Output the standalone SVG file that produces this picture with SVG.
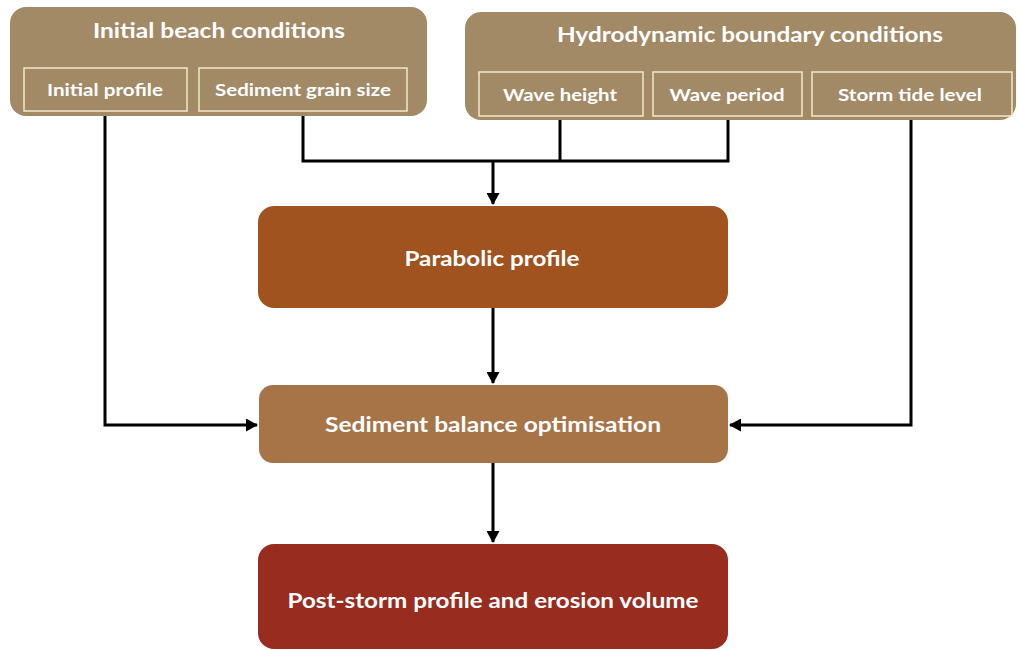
<svg xmlns="http://www.w3.org/2000/svg" width="1018" height="650" viewBox="0 0 1018 650">
  <style>
    .outer { fill: #A38A66; }
    .sub { fill: none; stroke: #F2E9CC; stroke-width: 1.5; }
    .t { font-family: Lato, "Liberation Sans", sans-serif; font-weight: bold; fill: #FFFFFF; text-anchor: middle; }
    .title { font-size: 20px; }
    .lbl { font-size: 17px; }
    .main { font-size: 21px; }
    .conn { fill: none; stroke: #000000; stroke-width: 3; }
  </style>
  <defs>
    <marker id="arr" markerWidth="13" markerHeight="13" refX="11" refY="6.5" orient="auto" markerUnits="userSpaceOnUse">
      <path d="M0,0 L12,6.5 L0,13 Z" fill="#000000"/>
    </marker>
  </defs>
  <rect width="1018" height="650" fill="#FFFFFF"/>

  <g id="connectors">
    <path class="conn" d="M105,112 V425 H257" marker-end="url(#arr)"/>
    <path class="conn" d="M303,112 V161 H728 V118"/>
    <path class="conn" d="M560,116 V161"/>
    <path class="conn" d="M493,161 V204" marker-end="url(#arr)"/>
    <path class="conn" d="M493,308 V383" marker-end="url(#arr)"/>
    <path class="conn" d="M911,118 V425 H730" marker-end="url(#arr)"/>
    <path class="conn" d="M493,463 V542" marker-end="url(#arr)"/>
  </g>

  <g id="initial-beach-conditions">
    <rect class="outer" x="10" y="7" width="417" height="109" rx="16"/>
    <text class="t title" x="219" y="38" textLength="252" lengthAdjust="spacingAndGlyphs">Initial beach conditions</text>
  </g>
  <g id="initial-profile">
    <rect class="sub" x="24" y="68" width="163" height="43"/>
    <text class="t lbl" x="105" y="96" textLength="116" lengthAdjust="spacingAndGlyphs">Initial profile</text>
  </g>
  <g id="sediment-grain-size">
    <rect class="sub" x="199" y="68" width="208" height="43"/>
    <text class="t lbl" x="303" y="96" textLength="176" lengthAdjust="spacingAndGlyphs">Sediment grain size</text>
  </g>

  <g id="hydrodynamic-boundary-conditions">
    <rect class="outer" x="465" y="12" width="551" height="108" rx="16"/>
    <text class="t title" x="750" y="42" textLength="386" lengthAdjust="spacingAndGlyphs">Hydrodynamic boundary conditions</text>
  </g>
  <g id="wave-height">
    <rect class="sub" x="479" y="72" width="164" height="44"/>
    <text class="t lbl" x="560" y="101" textLength="114" lengthAdjust="spacingAndGlyphs">Wave height</text>
  </g>
  <g id="wave-period">
    <rect class="sub" x="653" y="72" width="149" height="44"/>
    <text class="t lbl" x="727" y="101" textLength="115" lengthAdjust="spacingAndGlyphs">Wave period</text>
  </g>
  <g id="storm-tide-level">
    <rect class="sub" x="812" y="72" width="200" height="44"/>
    <text class="t lbl" x="910" y="101" textLength="144" lengthAdjust="spacingAndGlyphs">Storm tide level</text>
  </g>

  <g id="parabolic-profile">
    <rect x="258" y="206" width="470" height="102" rx="16" fill="#A0521F"/>
    <text class="t main" x="492" y="266" textLength="175" lengthAdjust="spacingAndGlyphs">Parabolic profile</text>
  </g>
  <g id="sediment-balance-optimisation">
    <rect x="259" y="385" width="469" height="78" rx="14" fill="#A77447"/>
    <text class="t main" x="493" y="432" textLength="336" lengthAdjust="spacingAndGlyphs">Sediment balance optimisation</text>
  </g>
  <g id="post-storm-profile">
    <rect x="258" y="544" width="470" height="105" rx="16" fill="#982C1F"/>
    <text class="t main" x="493" y="608" textLength="411" lengthAdjust="spacingAndGlyphs">Post-storm profile and erosion volume</text>
  </g>
</svg>
